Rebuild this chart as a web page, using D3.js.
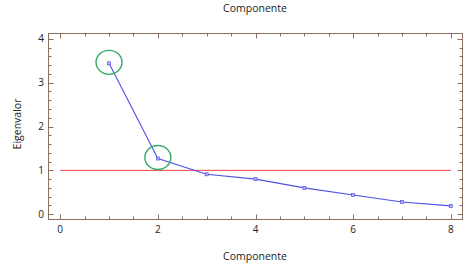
<!DOCTYPE html>
<html><head><meta charset="utf-8">
<script src="https://cdn.jsdelivr.net/npm/d3@7"></script>
<style>body{margin:0;background:#fff}svg{display:block}text{font-family:"Open Sans",sans-serif;fill:#222}</style>
</head><body>
<script>
const components = [1, 2, 3, 4, 5, 6, 7, 8];
const eigenvalues = [3.44, 1.27, 0.91, 0.80, 0.60, 0.44, 0.28, 0.19];
const threshold = 1;
const highlighted = [1, 2];
const xTicks = [0, 2, 4, 6, 8];
const yTicks = [0, 1, 2, 3, 4];

const W = 472, H = 264;
const svg = d3.select("body").append("svg").attr("width", W).attr("height", H);
const L = 48.5, R = 462.5, T = 33.5, B = 219.5;
const x = d3.scaleLinear().domain([-0.24, 8.24]).range([L, R]);
const y = d3.scaleLinear().domain([-0.12, 4.12]).range([B, T]);
const frame = "#8a6e60";

svg.append("rect").attr("x", L).attr("y", T).attr("width", R - L).attr("height", B - T)
  .attr("fill", "none").attr("stroke", frame).attr("stroke-width", 1);

const g = svg.append("g");
const xMinor = d3.range(0, 8.01, 0.5);
const yMinor = d3.range(0, 4.01, 0.2);
function isMajor(v){ return Math.abs(v - Math.round(v)) < 1e-6; }
xMinor.forEach(v => {
  const len = (xTicks.includes(Math.round(v)) && isMajor(v)) ? 5 : 3;
  const px = Math.round(x(v)) + 0.5;
  g.append("line").attr("x1", px).attr("x2", px).attr("y1", B).attr("y2", B - len).attr("stroke", frame);
  g.append("line").attr("x1", px).attr("x2", px).attr("y1", T).attr("y2", T + len).attr("stroke", frame);
});
yMinor.forEach(v => {
  const len = isMajor(v) ? 5 : 3;
  const py = Math.round(y(v)) + 0.5;
  g.append("line").attr("x1", L).attr("x2", L + len).attr("y1", py).attr("y2", py).attr("stroke", frame);
  g.append("line").attr("x1", R).attr("x2", R - len).attr("y1", py).attr("y2", py).attr("stroke", frame);
});
xTicks.forEach(v => {
  svg.append("text").attr("x", x(v)).attr("y", 233).attr("text-anchor", "middle")
    .attr("font-size", 10).text(v);
});
yTicks.forEach(v => {
  svg.append("text").attr("x", 44).attr("y", y(v) + 3.5).attr("text-anchor", "end")
    .attr("font-size", 10).text(v);
});

svg.append("line").attr("x1", x(0)).attr("x2", x(8)).attr("y1", y(threshold)).attr("y2", y(threshold))
  .attr("stroke", "#ee4444").attr("stroke-width", 1);

const line = d3.line().x((d, i) => x(components[i])).y(d => y(d));
svg.append("path").attr("d", line(eigenvalues)).attr("fill", "none")
  .attr("stroke", "#5050e8").attr("stroke-width", 1.1);
svg.selectAll(".m").data(eigenvalues).enter().append("rect")
  .attr("x", (d, i) => x(components[i]) - 1.5).attr("y", d => y(d) - 1.5)
  .attr("width", 3).attr("height", 3).attr("fill", "#b8b8f8").attr("stroke", "#5050e8").attr("stroke-width", 0.7);

highlighted.forEach(c => {
  const i = components.indexOf(c);
  svg.append("ellipse").attr("cx", x(c)).attr("cy", y(eigenvalues[i]) - 1)
    .attr("rx", 13).attr("ry", 12).attr("fill", "none").attr("stroke", "#35a868").attr("stroke-width", 1.4);
});

svg.append("text").attr("x", 255).attr("y", 12).attr("text-anchor", "middle").attr("font-size", 10.5).text("Componente");
svg.append("text").attr("x", 255).attr("y", 260).attr("text-anchor", "middle").attr("font-size", 10.5).text("Componente");
svg.append("text").attr("transform", "translate(21,124) rotate(-90)").attr("text-anchor", "middle")
  .attr("font-size", 10.5).text("Eigenvalor");
</script>
</body></html>
